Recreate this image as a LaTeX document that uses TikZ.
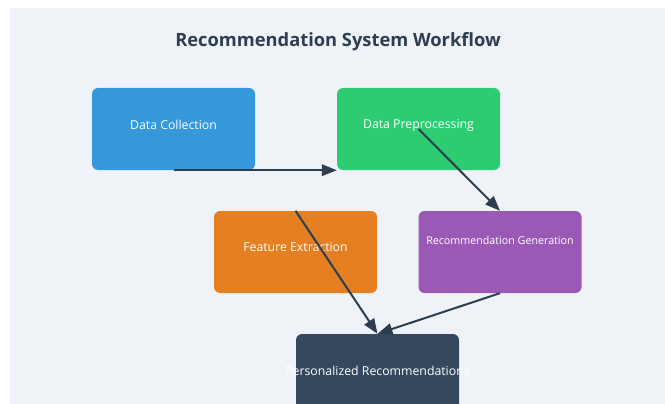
\documentclass[tikz,border=0pt]{standalone}
\usepackage{fontspec}
\setmainfont{Open Sans}
\usetikzlibrary{arrows.meta}
\definecolor{panelbg}{HTML}{EFF3F8}
\definecolor{titlecol}{HTML}{2C3E50}
\definecolor{edgecol}{HTML}{2C3E50}
\definecolor{cblue}{HTML}{3498DB}
\definecolor{cgreen}{HTML}{2ECC71}
\definecolor{corange}{HTML}{E67E22}
\definecolor{cpurple}{HTML}{9B59B6}
\definecolor{cnavy}{HTML}{34495E}
\tikzset{
  stage/.style={rounded corners=6pt, minimum width=163pt, minimum height=82pt,
    inner sep=0pt},
  caption/.style={text=white, inner sep=0pt, font=\fontsize{12.3}{14}\selectfont},
  smallcaption/.style={caption, font=\fontsize{10.7}{13}\selectfont},
  flow/.style={draw=edgecol, line width=2pt,
    -{Triangle[length=15pt,width=11.5pt]}}
}
\begin{document}
\begin{tikzpicture}[x=1pt,y=-1pt]
  \useasboundingbox (0,0) rectangle (665,404);
  \clip (0,0) rectangle (665,404);
  \fill[panelbg] (10,8) rectangle (665,404);

  \node[font=\fontsize{18.3}{22}\selectfont\bfseries, text=titlecol] (title) at (338,42)
    {Recommendation System Workflow};

  % stage boxes
  \node[stage, fill=cblue]   (collect) at (173.5,129) {};
  \node[stage, fill=cgreen]  (prep)    at (418.5,129) {};
  \node[stage, fill=corange] (feat)    at (295.5,252) {};
  \node[stage, fill=cpurple] (gen)     at (500,252) {};
  \node[stage, fill=cnavy]   (pers)    at (377.5,375) {};

  % stage captions
  \node[caption] (collectlabel) at ([yshift=4pt]collect.center) {Data Collection};
  \node[caption] (preplabel)    at ([yshift=4pt]prep.center) {Data Preprocessing};
  \node[caption] (featlabel)    at ([yshift=4.5pt]feat.center) {Feature Extraction};
  \node[smallcaption] (genlabel) at ([yshift=12pt]gen.center) {Recommendation Generation};
  \node[caption] (perslabel)    at ([yshift=4.5pt]pers.center) {Personalized Recommendations};

  % workflow connectors
  \draw[flow] (collect.south) -- (prep.south west);
  \draw[flow] (prep.center) -- (gen.north);
  \draw[flow] (feat.north) -- (pers.north);
  \draw[flow] (gen.south) -- (pers.north);
\end{tikzpicture}
\end{document}
